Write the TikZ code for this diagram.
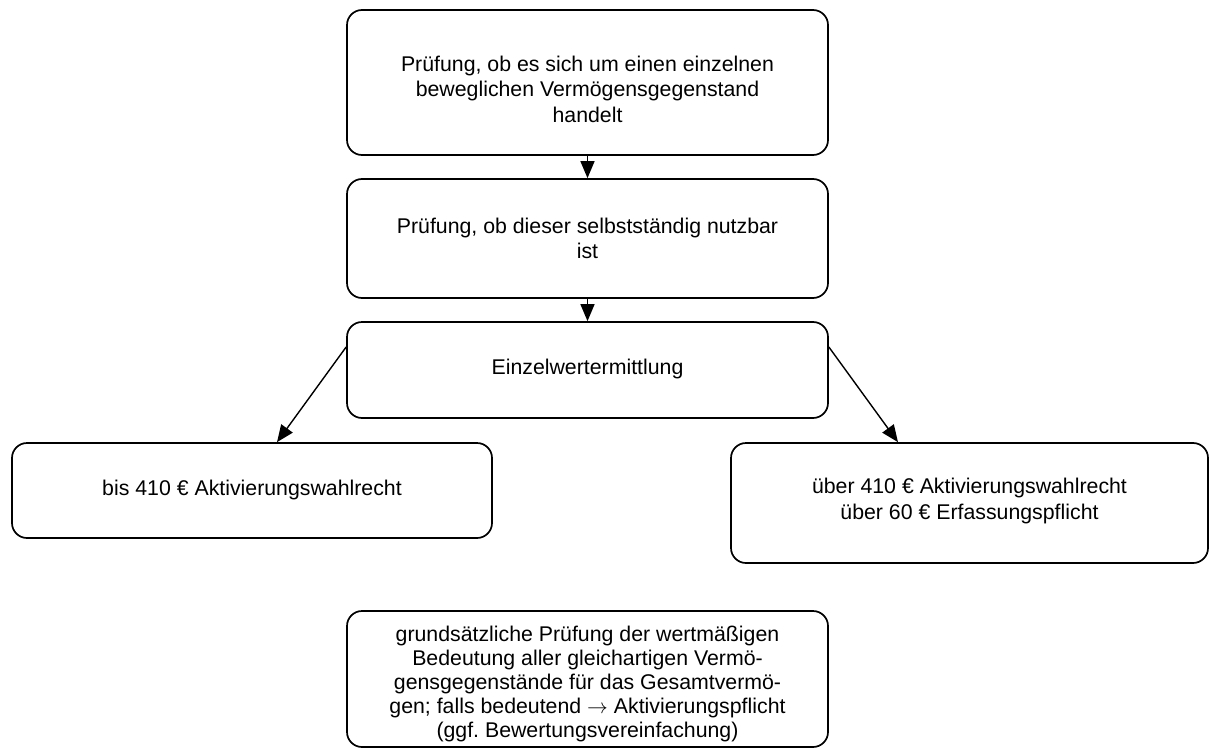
\documentclass[tikz,border=0pt]{standalone}
\usepackage{fontspec}
\setmainfont{Liberation Sans}
\usetikzlibrary{arrows.meta}
\begin{document}
\begin{tikzpicture}[x=1pt,y=-1pt,
  box/.style={draw=black,line width=1.7pt,rounded corners=15pt,rectangle,inner sep=0pt},
  txt/.style={align=center,font=\fontsize{21.3}{25.5}\selectfont,inner sep=0pt},
  conn/.style={line width=1.4pt,-{Triangle[length=17pt,width=14pt]}}]
\useasboundingbox (0,0) rectangle (1209,749);
\node[box,minimum width=481pt,minimum height=145pt] (b1) at (587.5,82.5) {};
\node[box,minimum width=481pt,minimum height=119pt] (b2) at (587.5,238.5) {};
\node[box,minimum width=481pt,minimum height=96pt] (b3) at (587.5,370) {};
\node[box,minimum width=480pt,minimum height=95pt] (b4) at (252,490.5) {};
\node[box,minimum width=477pt,minimum height=120pt] (b5) at (969.5,503) {};
\node[box,minimum width=481pt,minimum height=136pt] (b6) at (587.5,679) {};
\node[txt] (t1) at (587.5,89) {Prüfung, ob es sich um einen einzelnen\\beweglichen Vermögensgegenstand\\handelt};
\node[txt] (t2) at (587.5,238.5) {Prüfung, ob dieser selbstständig nutzbar\\ist};
\node[txt] (t3) at (587.5,369) {Einzelwertermittlung};
\node[txt] (t4) at (252,490) {bis 410 € Aktivierungswahlrecht};
\node[txt] (t5) at (969.5,501) {über 410 € Aktivierungswahlrecht\\über 60 € Erfassungspflicht};
\node[txt,font=\fontsize{21.3}{24}\selectfont] (t6) at (587.5,684) {grundsätzliche Prüfung der wertmäßigen\\Bedeutung aller gleichartigen Vermö-\\gensgegenstände für das Gesamtvermö-\\gen; falls bedeutend $\rightarrow$ Aktivierungspflicht\\(ggf.\ Bewertungsvereinfachung)};
\draw[conn] (b1.south) -- (b2.north);
\draw[conn] (b2.south) -- (b3.north);
\draw[conn] ([yshift=23pt]b3.west) -- ([xshift=25pt]b4.north);
\draw[conn] ([yshift=23pt]b3.east) -- ([xshift=-71.5pt]b5.north);
\end{tikzpicture}
\end{document}
